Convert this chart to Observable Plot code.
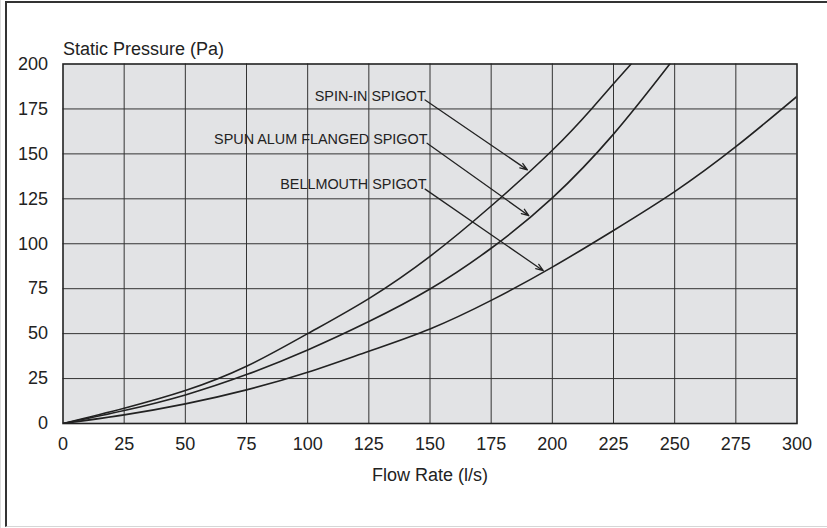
<!DOCTYPE html>
<html>
<head>
<meta charset="utf-8">
<script src="https://cdn.jsdelivr.net/npm/d3@7"></script>
<script src="https://cdn.jsdelivr.net/npm/@observablehq/plot@0.6"></script>
<style>
  html, body { margin: 0; padding: 0; background: #fff; }
  #wrap { position: relative; width: 827px; height: 528px; overflow: hidden; }
  #frame { position: absolute; left: 4.5px; top: 1px; width: 900px; height: 523px;
           border-left: 2.5px solid #333; border-top: 2.5px solid #333; border-bottom: 1px solid #d6d6d6;
           pointer-events: none; }
  #edge { position: absolute; left: 0; top: 0; width: 1px; height: 528px; background: #ddd; }
  svg { font-family: "Liberation Sans", Arial, Helvetica, sans-serif; }
</style>
</head>
<body>
<div id="wrap"><div id="edge"></div><div id="chart"></div><div id="frame"></div></div>
<script>
// Flow rate (l/s) vs static pressure (Pa)
const spinIn = [[0,0],[25,8.5],[50,18.3],[75,31.8],[100,50],[125,69.5],[150,93],[175,121],[200,152],[216,175],[225,189],[232.2,200]];
const spunAlum = [[0,0],[25,7.2],[50,15.9],[75,27.2],[100,40.9],[125,56.7],[150,74.8],[175,97.5],[200,125.5],[225,161],[248,200]];
const bellmouth = [[0,0],[25,4.8],[50,10.9],[75,18.7],[100,28.5],[125,40.2],[150,52.6],[175,68.5],[200,87],[225,107.4],[250,129],[275,154],[300,182]];

const xTicks = [0,25,50,75,100,125,150,175,200,225,250,275,300];
const yTicks = [0,25,50,75,100,125,150,175,200];

// Annotation labels (data units)
const labels = ["SPIN-IN SPIGOT", "SPUN ALUM FLANGED SPIGOT", "BELLMOUTH SPIGOT"];
const labelX = [148.3, 149.0, 148.6];
const labelY = [182.0, 158.2, 132.8];
const arrowX1 = [148.0, 148.8, 148.0];
const arrowY1 = [180.0, 155.9, 130.4];
const arrowX2 = [189.8, 190.4, 196.3];
const arrowY2 = [141.1, 115.6, 85.0];

const ann = labels.map((t, i) => ({t, x: labelX[i], y: labelY[i], x1: arrowX1[i], y1: arrowY1[i], x2: arrowX2[i], y2: arrowY2[i]}));
const toObj = a => a.map(([q, p]) => ({q, p}));
const series = [spinIn, spunAlum, bellmouth].map(toObj);

const ink = "#222";
const fs = 18;
const chart = Plot.plot({
  width: 827,
  height: 528,
  marginLeft: 62.5,
  marginRight: 30.5,
  marginTop: 63.5,
  marginBottom: 105,
  style: {fontFamily: '"Liberation Sans", Arial, sans-serif', fontSize: fs + "px", color: ink, background: "transparent"},
  x: {domain: [0, 300]},
  y: {domain: [0, 200]},
  marks: [
    Plot.frame({fill: "#e2e3e5"}),
    Plot.gridX(xTicks.slice(1, -1), {stroke: "#333", strokeOpacity: 1, strokeWidth: 1}),
    Plot.gridY(yTicks.slice(1, -1), {stroke: "#333", strokeOpacity: 1, strokeWidth: 1}),
    Plot.axisX(xTicks, {tickSize: 0, tickPadding: 14, label: null, fontSize: fs, fill: ink}),
    Plot.axisY(yTicks, {tickSize: 0, tickPadding: 15, label: null, fontSize: fs, fill: ink}),
    ...series.map(s => Plot.line(s, {x: "q", y: "p", curve: "natural", stroke: ink, strokeWidth: 1.6, clip: true})),
    Plot.arrow(ann, {x1: "x1", y1: "y1", x2: "x2", y2: "y2", stroke: ink, strokeWidth: 1.3, headLength: 9, headAngle: 40}),
    Plot.text(ann, {x: "x", y: "y", text: "t", textAnchor: "end", lineAnchor: "middle", fontSize: 14.4, fill: ink}),
    Plot.frame({stroke: ink, strokeWidth: 1.6}),
    Plot.text(["Flow Rate (l/s)"], {frameAnchor: "bottom", lineAnchor: "middle", dy: 52, fontSize: fs, fill: ink}),
    Plot.text(["Static Pressure (Pa)"], {frameAnchor: "top-left", lineAnchor: "middle", dy: -15, textAnchor: "start", fontSize: fs, fill: ink})
  ]
});
document.getElementById("chart").appendChild(chart);
</script>
</body>
</html>
